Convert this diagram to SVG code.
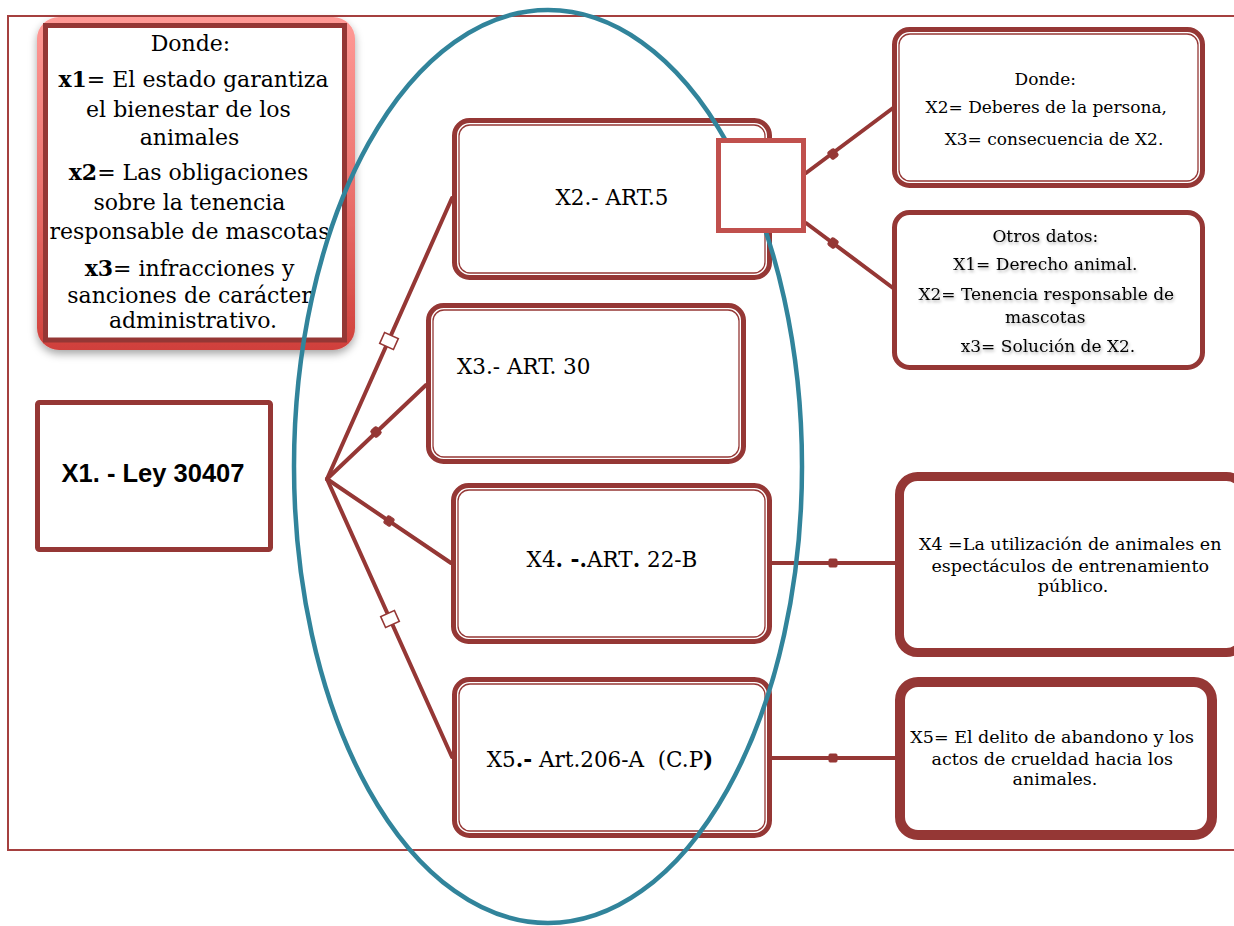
<svg xmlns="http://www.w3.org/2000/svg" width="1234" height="926" viewBox="0 0 1234 926">
<style>
.ser{font-family:"DejaVu Serif","Liberation Serif",serif;fill:#000}
.san{font-family:"Liberation Sans",Arial,sans-serif;fill:#000}
.thick{fill:#fff;stroke:#953735;stroke-width:5}
.thin{fill:none;stroke:#953735;stroke-width:1.3}
.con{stroke:#953735;stroke-width:4;fill:none;stroke-linecap:round}
.mk-open{fill:#fff;stroke:#953735;stroke-width:1.6}
.mk-fill{fill:#953735;stroke:#953735;stroke-width:1}
</style>
<defs>
<linearGradient id="gRed" x1="0" y1="0" x2="0" y2="1">
<stop offset="0" stop-color="#ff9a96"/>
<stop offset="0.5" stop-color="#ec7470"/>
<stop offset="1" stop-color="#d0403b"/>
</linearGradient>
<filter id="shadow" x="-10%" y="-10%" width="130%" height="130%">
<feDropShadow dx="0" dy="4" stdDeviation="4" flood-color="#000" flood-opacity="0.35"/>
</filter>
<filter id="tshadow" x="-5%" y="-20%" width="110%" height="160%">
<feDropShadow dx="1" dy="2" stdDeviation="1.5" flood-color="#000" flood-opacity="0.3"/>
</filter>
</defs>
<rect width="1234" height="926" fill="#fff"/>

<!-- frame -->
<rect x="8" y="16" width="1240" height="834" fill="none" stroke="#a5403f" stroke-width="2"/>

<!-- top-left legend box -->
<g id="legend">
<rect x="37" y="17" width="318" height="333" rx="22" fill="url(#gRed)" filter="url(#shadow)"/>
<rect x="45.5" y="25.5" width="299" height="314.5" fill="#fff" stroke="#953735" stroke-width="5"/>
<text class="ser" font-size="22" text-anchor="middle">
<tspan x="194" y="51">Donde:</tspan>
<tspan x="197" y="87"><tspan font-weight="bold">x1</tspan>= El estado garantiza</tspan>
<tspan x="192" y="117">el bienestar  de los</tspan>
<tspan x="193" y="145">animales</tspan>
<tspan x="192" y="180"><tspan font-weight="bold">x2</tspan>= Las obligaciones</tspan>
<tspan x="193" y="210">sobre la tenencia</tspan>
<tspan x="193" y="239">responsable de mascotas</tspan>
<tspan x="193" y="276"><tspan font-weight="bold">x3</tspan>= infracciones y</tspan>
<tspan x="193" y="303">sanciones de carácter</tspan>
<tspan x="193" y="328">administrativo.</tspan>
</text>
</g>

<!-- connectors -->
<g id="connectors">
<line class="con" x1="327" y1="479" x2="452" y2="198"/>
<line class="con" x1="327" y1="479" x2="426" y2="385"/>
<line class="con" x1="327" y1="479" x2="451" y2="563"/>
<line class="con" x1="327" y1="479" x2="452" y2="757"/>
<line class="con" x1="806" y1="173" x2="893" y2="108"/>
<line class="con" x1="806" y1="223" x2="893" y2="288"/>
<line class="con" x1="772" y1="563" x2="897" y2="563"/>
<line class="con" x1="772" y1="758" x2="897" y2="758"/>
<rect class="mk-open" x="-7.5" y="-6" width="15" height="12" transform="translate(389,341) rotate(24)"/>
<rect class="mk-open" x="-7.5" y="-6" width="15" height="12" transform="translate(390,619) rotate(-24)"/>
<rect class="mk-fill" x="-4" y="-4.5" width="8" height="9" rx="2" transform="translate(376,432) rotate(-43)"/>
<rect class="mk-fill" x="-4" y="-4.5" width="8" height="9" rx="2" transform="translate(389,521) rotate(34)"/>
<rect class="mk-fill" x="-4" y="-4.5" width="8" height="9" rx="2" transform="translate(833,154) rotate(-37)"/>
<rect class="mk-fill" x="-4" y="-4.5" width="8" height="9" rx="2" transform="translate(833,243) rotate(37)"/>
<rect class="mk-fill" x="829" y="559" width="8" height="8" rx="1"/>
<rect class="mk-fill" x="829" y="754" width="8" height="8" rx="1"/>
</g>

<!-- X1 -->
<g id="x1">
<rect x="37.5" y="402.5" width="233" height="147" rx="2" fill="#fff" stroke="#953735" stroke-width="5"/>
<text class="san" x="153" y="482" font-size="25.5" font-weight="bold" text-anchor="middle">X1. - Ley 30407</text>
</g>

<!-- X2 -->
<g id="x2">
<rect class="thick" x="454.5" y="120.5" width="315" height="157" rx="15"/>
<rect class="thin" x="459" y="125" width="306" height="148" rx="11"/>
<text class="ser" x="612" y="205" font-size="21.5" text-anchor="middle">X2.- ART.5</text>
</g>

<!-- X3 -->
<g id="x3">
<rect class="thick" x="428.5" y="305.5" width="315" height="156" rx="15"/>
<rect class="thin" x="433" y="310" width="306" height="147" rx="11"/>
<text class="ser" x="457" y="374" font-size="21.5">X3.- ART. 30</text>
</g>

<!-- X4 -->
<g id="x4">
<rect class="thick" x="453.5" y="485.5" width="316" height="156" rx="15"/>
<rect class="thin" x="458" y="490" width="307" height="147" rx="11"/>
<text class="ser" x="612" y="567" font-size="21.5" text-anchor="middle">X4<tspan font-weight="bold">. -.</tspan>ART<tspan font-weight="bold">.</tspan> 22-B</text>
</g>

<!-- X5 -->
<g id="x5">
<rect class="thick" x="454.5" y="679.5" width="315" height="156" rx="15"/>
<rect class="thin" x="459" y="684" width="306" height="147" rx="11"/>
<text class="ser" x="600" y="767" font-size="21.5" text-anchor="middle" xml:space="preserve">X5<tspan font-weight="bold">.-</tspan> Art.206-A  (C.P<tspan font-weight="bold">)</tspan></text>
</g>

<!-- right boxes -->
<g id="donde2">
<rect class="thick" x="894.5" y="29.5" width="308" height="156" rx="15"/>
<rect class="thin" x="899" y="34" width="299" height="147" rx="11"/>
<text class="ser" font-size="17" text-anchor="middle">
<tspan x="1048" y="85">Donde:</tspan>
<tspan x="1049" y="113">X2= Deberes de la persona,</tspan>
<tspan x="1054" y="145">X3= consecuencia de X2.</tspan>
</text>
</g>

<g id="otros">
<rect class="thick" x="894.5" y="212.5" width="308" height="155" rx="15"/>
<text class="ser" font-size="17" text-anchor="middle" filter="url(#tshadow)">
<tspan x="1048" y="242">Otros datos:</tspan>
<tspan x="1048" y="270">X1= Derecho animal.</tspan>
<tspan x="1049" y="300">X2= Tenencia responsable de</tspan>
<tspan x="1048" y="323">mascotas</tspan>
<tspan x="1048" y="352">x3= Solución de X2.</tspan>
</text>
</g>

<g id="x4desc">
<rect x="899.5" y="476.5" width="345" height="176" rx="18" fill="#fff" stroke="#953735" stroke-width="9"/>
<text class="ser" font-size="17.5" text-anchor="middle">
<tspan x="1073" y="550">X4 =La utilización de animales en</tspan>
<tspan x="1073" y="572">espectáculos de entrenamiento</tspan>
<tspan x="1073" y="592">público.</tspan>
</text>
</g>

<g id="x5desc">
<rect x="900" y="682" width="312" height="153" rx="18" fill="#fff" stroke="#953735" stroke-width="10"/>
<text class="ser" font-size="17.5" text-anchor="middle">
<tspan x="1055" y="743">X5= El delito de abandono y los</tspan>
<tspan x="1055" y="765">actos de crueldad hacia los</tspan>
<tspan x="1055" y="785">animales.</tspan>
</text>
</g>

<!-- ellipse -->
<g id="ellipse">
<ellipse cx="548" cy="466.5" rx="254" ry="456.5" fill="none" stroke="#31849b" stroke-width="4.5"/>
</g>

<!-- small square over ellipse -->
<g id="square">
<rect x="718.5" y="140.5" width="85" height="90" fill="#fff" stroke="#c0504d" stroke-width="5"/>
</g>
</svg>
